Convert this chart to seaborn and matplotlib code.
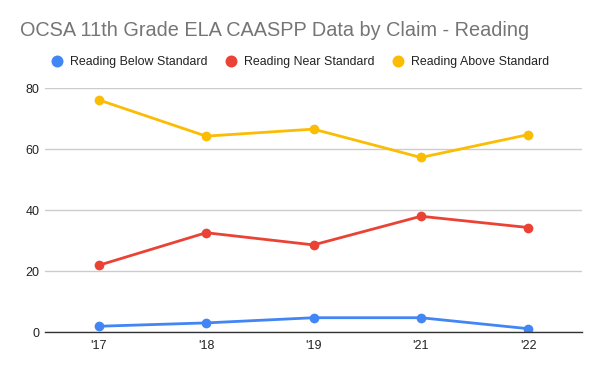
import pandas as pd
import matplotlib
matplotlib.use("Agg")
import matplotlib.pyplot as plt
import seaborn as sns

years = ["'17", "'18", "'19", "'21", "'22"]
below = [1.9, 3.0, 4.7, 4.7, 1.1]
near = [21.9, 32.6, 28.6, 38.0, 34.3]
above = [76.2, 64.3, 66.6, 57.3, 64.8]

series_names = ["Reading Below Standard", "Reading Near Standard", "Reading Above Standard"]
colors = ["#4285F4", "#EA4335", "#FBBC04"]

# long-form table for seaborn
df = pd.DataFrame({
    "year": years * 3,
    "value": below + near + above,
    "series": [s for s in series_names for _ in years],
})

sns.set_style("white")
plt.rcParams["font.family"] = ["Liberation Sans", "DejaVu Sans"]

fig = plt.figure(figsize=(6, 3.71), dpi=100)
ax = fig.add_axes([0.075, 0.105, 0.895, 0.657])

sns.lineplot(data=df, x="year", y="value", hue="series", palette=colors,
             marker="o", markersize=7, markeredgewidth=0, linewidth=2,
             sort=False, legend=False, ax=ax)

ax.set_xlim(-0.5, len(years) - 0.5)
ax.set_ylim(0, 80)
ax.set_yticks([0, 20, 40, 60, 80])
ax.set_xlabel("")
ax.set_ylabel("")
ax.grid(axis="y", color="#cccccc", linewidth=1)
ax.set_axisbelow(True)
for side in ["top", "right", "left"]:
    ax.spines[side].set_visible(False)
ax.spines["bottom"].set_color("#333333")
ax.spines["bottom"].set_linewidth(1)
ax.tick_params(axis="both", length=0, labelsize=9, colors="#222222")
ax.tick_params(axis="y", pad=4)
ax.tick_params(axis="x", pad=6)

fig.text(0.033, 0.918, "OCSA 11th Grade ELA CAASPP Data by Claim - Reading",
         fontsize=14.3, color="#757575", va="center", ha="left")

# legend row
handles = [plt.Line2D([], [], marker="o", linestyle="", markersize=8.6,
                      markerfacecolor=c, markeredgewidth=0) for c in colors]
fig.legend(handles, series_names, loc="center", bbox_to_anchor=(0.5, 0.833),
           ncol=3, frameon=False, fontsize=8.9, handlelength=1.0,
           handletextpad=0.5, columnspacing=1.45, labelcolor="#222222")

fig.savefig("out.png", dpi=100)
